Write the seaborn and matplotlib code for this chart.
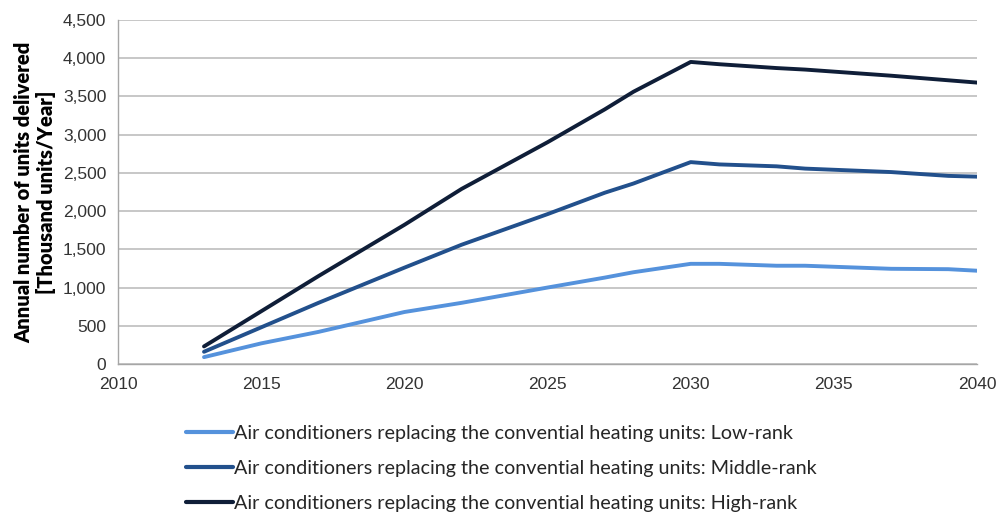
import matplotlib
matplotlib.use("Agg")
import matplotlib.pyplot as plt
import matplotlib.ticker as mticker
import seaborn as sns
import pandas as pd

years = [2013, 2015, 2017, 2020, 2022, 2025, 2027, 2028, 2030, 2031, 2033, 2034, 2037, 2039, 2040]
low = [90, 270, 420, 680, 800, 1000, 1130, 1200, 1310, 1310, 1285, 1285, 1245, 1240, 1220]
middle = [160, 480, 800, 1260, 1560, 1960, 2240, 2360, 2640, 2610, 2585, 2555, 2510, 2460, 2450]
high = [230, 690, 1150, 1820, 2290, 2900, 3330, 3560, 3950, 3920, 3870, 3850, 3770, 3710, 3680]

series_names = [
    "Air conditioners replacing the convential heating units: Low-rank",
    "Air conditioners replacing the convential heating units: Middle-rank",
    "Air conditioners replacing the convential heating units: High-rank",
]
colors = ["#5592DC", "#22508C", "#0F1E38"]
x_ticks = [2010, 2015, 2020, 2025, 2030, 2035, 2040]
y_ticks = [0, 500, 1000, 1500, 2000, 2500, 3000, 3500, 4000, 4500]
y_label = "Annual number of units delivered\n[Thousand units/Year]"

rows = []
for name, vals in zip(series_names, [low, middle, high]):
    for yr, v in zip(years, vals):
        rows.append({"Year": yr, "Value": v, "Series": name})
df = pd.DataFrame(rows)

sns.set_theme(style="white")
plt.rcParams["font.family"] = ["Liberation Sans", "DejaVu Sans"]

fig = plt.figure(figsize=(10.01, 5.23), dpi=100)
ax = fig.add_axes([0.118, 0.304, 0.858, 0.658])

sns.lineplot(data=df, x="Year", y="Value", hue="Series", palette=colors,
             hue_order=series_names, linewidth=2.8, ax=ax, legend=False)

ax.set_xlim(2010, 2040)
ax.set_ylim(0, 4500)
ax.set_xticks(x_ticks)
ax.set_yticks(y_ticks)
ax.yaxis.set_major_formatter(mticker.FuncFormatter(lambda v, p: f"{int(v):,}"))
ax.grid(axis="y", color="#BEBEBE", linewidth=1.2)
ax.grid(axis="x", visible=False)
for s in ["top", "right"]:
    ax.spines[s].set_visible(False)
for s in ["left", "bottom"]:
    ax.spines[s].set_color("#A6A6A6")
    ax.spines[s].set_linewidth(1.0)
ax.tick_params(axis="both", which="major", labelsize=12.5, colors="#A6A6A6",
               labelcolor="#333333", length=5, width=1.0, direction="out")
ax.tick_params(axis="x", pad=4)
ax.set_xlabel("")
ax.set_ylabel(y_label, fontsize=14.5, fontweight="heavy", color="#000000",
              family=["Lato", "DejaVu Sans"], labelpad=5, linespacing=1.15)

handles = [plt.Line2D([], [], color=c, linewidth=3) for c in colors]
fig.legend(handles, series_names, loc="upper left", bbox_to_anchor=(0.168, 0.222),
           frameon=False, prop={"family": ["Lato", "DejaVu Sans"], "size": 14.2},
           handlelength=2.4, handletextpad=0.02, labelspacing=0.93)

fig.savefig("out.png", dpi=100)
